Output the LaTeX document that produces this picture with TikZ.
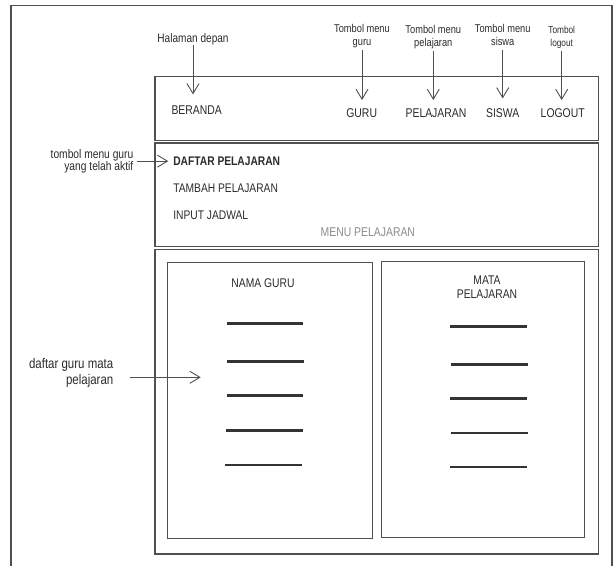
\documentclass[tikz,border=0pt]{standalone}
\usepackage{fontspec}
\setmainfont{Liberation Sans}[FakeStretch=0.82]
\usetikzlibrary{arrows.meta}

\definecolor{framegray}{HTML}{505050}
\definecolor{ink}{HTML}{2B2B2B}
\definecolor{softgray}{HTML}{8C8C8C}
\definecolor{rulegray}{HTML}{333333}

\begin{document}
\begin{tikzpicture}[x=1pt,y=-1pt,
  every node/.style={inner sep=0pt, outer sep=0pt, text=ink},
  panel/.style={draw=framegray, line width=1.1pt, inner sep=0pt},
  note/.style={font=\fontsize{11.3}{13.8}\selectfont, align=center, anchor=north, text depth=2.5pt},
  navitem/.style={font=\fontsize{12.7}{15}\selectfont, text height=9.1pt, text depth=0pt},
  menuitem/.style={font=\fontsize{12.5}{15}\selectfont, anchor=west},
  sidenote/.style={align=right, anchor=north east, text depth=2.5pt},
  pointer/.style={draw=framegray, line width=0.9pt,
    -{Straight Barb[length=10pt,width=12pt,line width=0.9pt]}},
  listrule/.style={draw=rulegray, line width=2.7pt},
]
\useasboundingbox (0,0) rectangle (616,566);

% outer page frame
\draw[draw=framegray, line width=1.1pt] (11,566) -- (11,5.3) -- (612,5.3) -- (612,566);

% page layout: header bar, sub-menu panel, content panel
\node[panel, minimum width=443.5pt, minimum height=64pt]    (topbar)  at (376.75,108.5)  {};
\node[panel, minimum width=443.5pt, minimum height=103.7pt] (menubox) at (376.75,194.85) {};
\node[panel, minimum width=443.5pt, minimum height=304.7pt] (content) at (376.75,401.65) {};
\node[panel, minimum width=205pt,   minimum height=276pt]   (leftcol) at (269.8,400.3)   {};
\node[panel, minimum width=203.4pt, minimum height=275.6pt] (rightcol) at (483,399.5)    {};

% header navigation
\node[navitem] (beranda) at (196.7,110)   {BERANDA};
\node[navitem] (guru)    at (361.7,113.3) {GURU};
\node[navitem] (pel)     at (436,113.3)   {PELAJARAN};
\node[navitem] (siswa)   at (502.7,113.3) {SISWA};
\node[navitem] (logout)  at (562.7,113.3) {LOGOUT};

% callouts above the header
\node[font=\fontsize{12.3}{14}\selectfont, anchor=north, text depth=2.5pt] (halaman) at (193,33.5) {Halaman depan};
\node[note] (nguru)   at (362,24)   {Tombol menu\\guru};
\node[note] (npel)    at (433.3,25) {Tombol menu\\pelajaran};
\node[note] (nsiswa)  at (502.7,24) {Tombol menu\\siswa};
\node[note, font=\fontsize{10.1}{12.8}\selectfont] (nlogout) at (561.7,26.5) {Tombol\\logout};

\draw[pointer, shorten >=11pt]                  (halaman.south) -- (halaman.south |- beranda.north);
\draw[pointer, shorten <=2pt, shorten >=8.7pt]  (nguru.south)   -- (nguru.south |- guru.north);
\draw[pointer, shorten <=2pt, shorten >=8.7pt]  (npel.south)    -- (npel.south |- pel.north);
\draw[pointer, shorten <=2pt, shorten >=10.3pt] (nsiswa.south)  -- (nsiswa.south |- siswa.north);
\draw[pointer, shorten <=2pt, shorten >=8.7pt]  (nlogout.south) -- (nlogout.south |- logout.north);

% sub-menu entries
\node[menuitem, font=\bfseries\fontsize{12.5}{15}\selectfont] (dafpel) at (173.3,161.7) {DAFTAR PELAJARAN};
\node[menuitem] (tambah) at (173.3,188.5) {TAMBAH PELAJARAN};
\node[menuitem] (jadwal) at (173.3,215)   {INPUT JADWAL};
\node[menuitem, font=\fontsize{12.7}{15}\selectfont, text=softgray] (menulabel) at (320.7,232.3) {MENU PELAJARAN};

\node[sidenote, font=\fontsize{12.5}{12.7}\selectfont] (aktif) at (133.3,149) {tombol menu guru\\yang telah aktif};
\draw[pointer, shorten <=3.4pt, shorten >=5pt] (aktif.east) -- (aktif.east -| dafpel.west);

% column headings
\node[font=\fontsize{12.6}{15}\selectfont] (namaguru) at (263,282.7) {NAMA GURU};
\node[font=\fontsize{12.6}{14}\selectfont, align=center] (matapel) at (487,287) {MATA\\PELAJARAN};

% placeholder rows
\foreach \xa/\xb/\yy in {226.7/303.3/323.3, 227.3/304.3/361.7, 226.7/303.3/395.7,
                         226.3/303/430.7, 225.3/302/465}
  \draw[listrule] (\xa,\yy) -- (\xb,\yy);
\foreach \xa/\xb/\yy in {450/526.7/326.7, 451/527.7/364.7, 450/526.7/398.7,
                         451/527.7/433, 450.3/526.7/467}
  \draw[listrule] (\xa,\yy) -- (\xb,\yy);

% callout for the teacher list
\node[sidenote, font=\fontsize{14}{16}\selectfont] (daftar) at (113.3,358) {daftar guru mata\\pelajaran};
\coordinate (gtip) at (200.7,377.3);
\draw[pointer, shorten <=17pt] (daftar.east |- gtip) -- (gtip);
\end{tikzpicture}
\end{document}
